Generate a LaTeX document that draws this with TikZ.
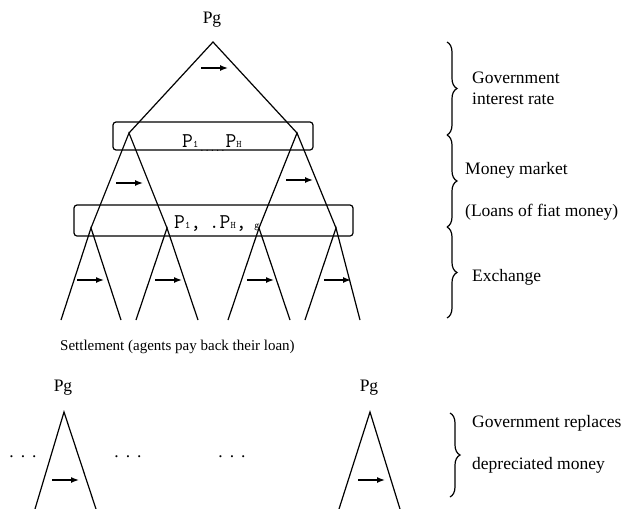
\documentclass[tikz,border=0pt]{standalone}
\usepackage{fontspec}
\setmainfont{Liberation Serif}
\usetikzlibrary{arrows.meta,decorations.pathreplacing}
\newcommand{\psub}[1]{{\fontsize{10}{10}\selectfont #1}}

\begin{document}
\begin{tikzpicture}[x=1pt,y=1pt]
\tikzstyle{every node}+=[inner sep=0pt]
\tikzstyle{lbl}=[font=\fontsize{17.5}{21}\selectfont]
\tikzstyle{side}=[lbl, anchor=west, align=left]
\tikzstyle{ptxt}=[anchor=base west, font=\ttfamily\fontsize{21}{21}\selectfont]
\tikzstyle{flow}=[-{Latex[length=8pt,width=6pt]}, line width=1.4pt]
\tikzstyle{leg}=[line width=1.2pt]
\tikzstyle{pbox}=[draw, line width=1.2pt, rounded corners=3pt]
\tikzstyle{brc}=[decorate, decoration={brace, amplitude=10pt}, line width=1.2pt]
\useasboundingbox (0,0) rectangle (627,-509);

% government level
\node [lbl] (pgtop) at (212,-20) {Pg};
\coordinate (top) at (213,-42);
\coordinate (l1) at (129,-133);
\coordinate (r1) at (297,-133);
\draw [leg] (l1) -- (top) -- (r1);

% money market level
\coordinate (a1) at (91,-228);
\coordinate (a2) at (167,-228);
\coordinate (a3) at (259,-228);
\coordinate (a4) at (336,-228);
\draw [leg] (a1) -- (l1) -- (a2);
\draw [leg] (a3) -- (r1) -- (a4);

% exchange level
\foreach \n/\xl/\xr in {a1/61/121, a2/136/198, a3/228/290, a4/305/360}
  \draw [leg] (\xl,-320) -- (\n) -- (\xr,-320);

\draw [pbox] (113,-122) rectangle (313,-150);
\draw [pbox] (74,-205) rectangle (353,-236);
\node [ptxt] (plist1) at (182,-147)
  {P\psub{1}\hspace{1pt}\raisebox{-4pt}{\psub{.....}}P\psub{H}};
\node [ptxt] (plist2) at (174,-228)
  {P\psub{1},\hspace{-3pt} .P\psub{H},\hspace{-3pt} \psub{g}};

\foreach \x/\y in {201/68, 116/183, 286/180, 77/280, 155/280, 247/280, 324/280}
  \draw [flow] (\x,-\y) -- ++(27,0);

% braces
\coordinate (b0) at (447,-42);
\coordinate (b1) at (447,-135);
\coordinate (b2) at (447,-227);
\coordinate (b3) at (447,-318);
\draw [brc] (b0) -- (b1);
\draw [brc] (b1) -- (b2);
\draw [brc] (b2) -- (b3);
\node [side] (govrate) at (472,-88) {Government\\interest rate};
\node [side] (market) at (465,-170) {Money market};
\node [side] (loans) at (465,-212) {(Loans of fiat money)};
\node [side] (exch) at (472,-277) {Exchange};

\node [anchor=west, font=\fontsize{15}{18}\selectfont] (settle) at (60,-347)
  {Settlement (agents pay back their loan)};

% replacement
\node [lbl] (pgleft) at (63,-388) {Pg};
\node [lbl] (pgright) at (369,-388) {Pg};
\coordinate (c1) at (64,-412);
\coordinate (c2) at (370,-412);
\draw [leg] (35,-509) -- (c1) -- (96,-509);
\draw [leg] (339,-509) -- (c2) -- (400,-509);
\foreach \x/\y in {52/480, 358/480}
  \draw [flow] (\x,-\y) -- ++(27,0);
\foreach \x in {23, 128, 232}
  \node [lbl, anchor=base] at (\x,-457) {.\hspace{7pt}.\hspace{7pt}.};

\coordinate (b4) at (450,-413);
\coordinate (b5) at (450,-497);
\draw [brc] (b4) -- (b5);
\node [side] (replace) at (472,-423) {Government replaces};
\node [side] (deprec) at (472,-465) {depreciated money};
\end{tikzpicture}
\end{document}
